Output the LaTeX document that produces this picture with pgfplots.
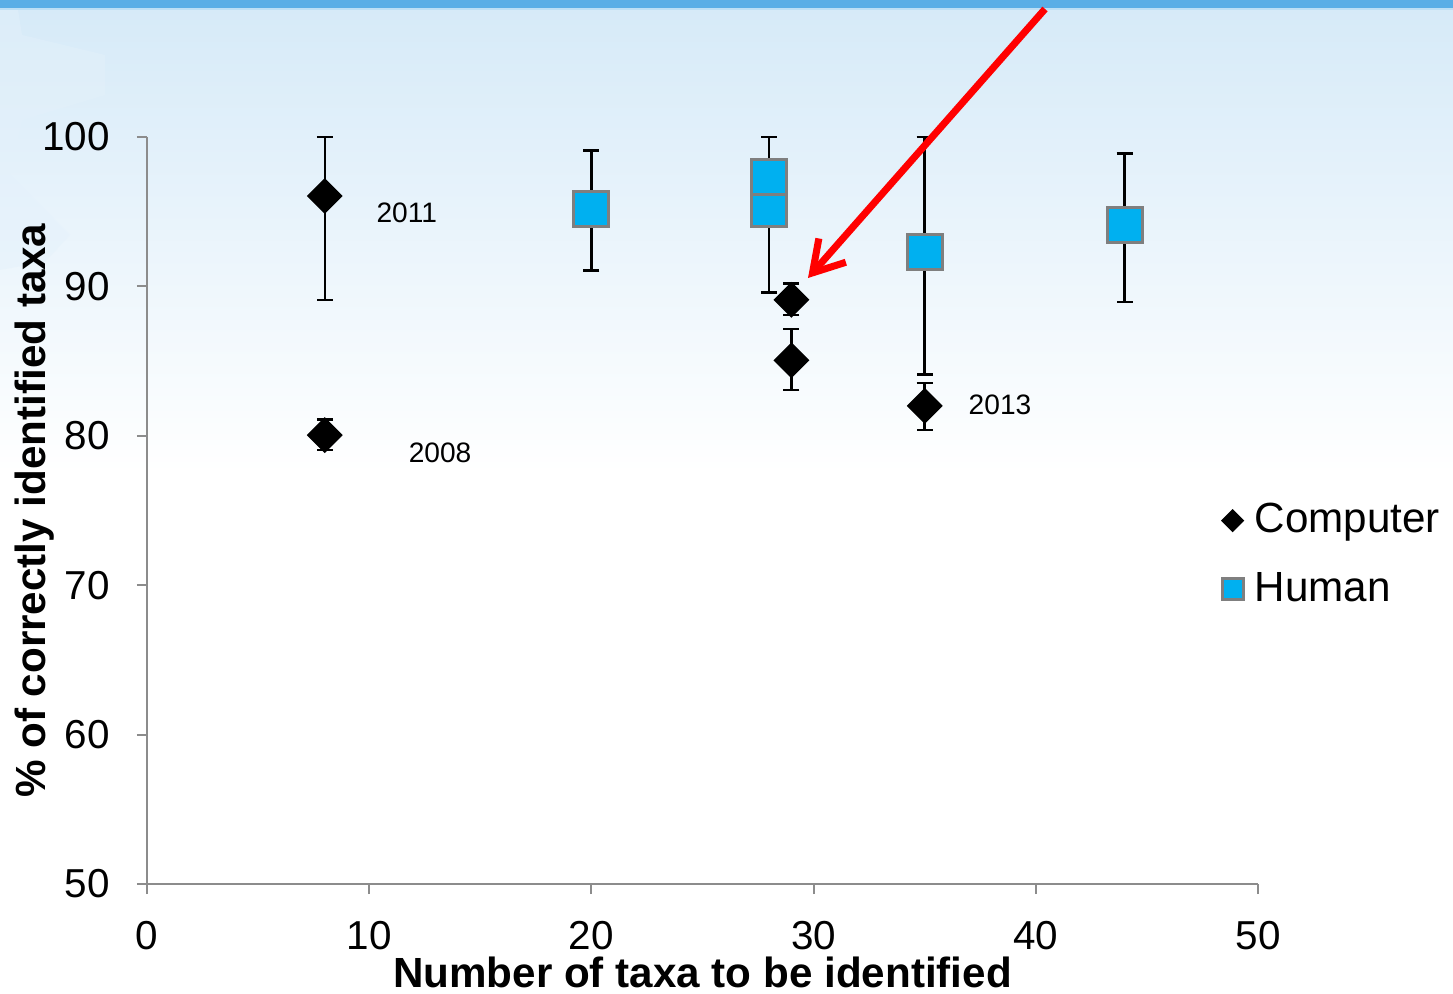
\documentclass[border=0pt]{standalone}
\usepackage{pgfplots}
\usepackage{pgfplotstable}
\pgfplotsset{compat=1.18}
\usepackage{fontspec}
\setmainfont{Liberation Sans}
\usetikzlibrary{arrows.meta}

\definecolor{humanblue}{HTML}{00B0F0}
\definecolor{markedge}{HTML}{7F7F7F}
\definecolor{axisgray}{HTML}{8C8C8C}
\definecolor{bandblue}{HTML}{5AAEE6}
\definecolor{skytop}{HTML}{D6EAF8}
\definecolor{arrowred}{HTML}{FF0000}

% x = number of taxa, y = % correct, ep/em = upper/lower error
\pgfplotstableread{
x   y      ep    em
8   96.05  3.95  6.95
8   80.05  1.05  1.00
29  89.10  1.10  1.00
29  85.05  2.10  2.00
35  82.00  1.55  1.60
}\computerdata

\pgfplotstableread{
x   y      ep    em
20  95.20  3.90  4.15
28  95.20  1.50  5.60
28  97.30  2.70  2.70
35  92.30  7.70  8.20
44  94.10  4.80  5.15
}\humandata

\begin{document}
\begin{tikzpicture}[x=1cm,y=1cm]
\useasboundingbox (0,0) rectangle (14.53,9.93);
% slide background
\fill[white] (0,0) rectangle (14.53,9.93);
\shade[top color=skytop, bottom color=white] (0,5.2) rectangle (14.53,9.85);
\fill[skytop!70!bandblue!35!white, opacity=0.45]
  (0,9.83) -- (0.18,9.83) -- (0.22,9.58) -- (1.05,9.38) -- (1.05,8.98)
  -- (0.22,8.73) -- (0.10,8.18) -- (0.70,7.58) -- (0.45,7.31) -- (0,7.23) -- cycle;
\fill[bandblue] (0,9.85) rectangle (14.53,9.93);
\fill[bandblue!40!white] (0,9.83) rectangle (14.53,9.85);

\begin{axis}[
  at={(1.47cm,1.09cm)}, anchor=south west,
  scale only axis, width=11.11cm, height=7.47cm,
  xmin=0, xmax=50, ymin=50, ymax=100,
  xtick={0,10,...,50}, ytick={50,60,...,100},
  axis lines*=left,
  axis line style={axisgray, line width=0.6pt},
  tick style={axisgray, line width=0.6pt},
  tick align=outside, major tick length=0.1cm,
  ticklabel style={font=\fontsize{11.5}{13}\selectfont, black},
  /pgf/number format/assume math mode=true,
  yticklabel style={anchor=east, xshift=-0.15cm},
  xticklabel style={anchor=north, yshift=-0.15cm},
  clip=false,
  xlabel={\textbf{Number of taxa to be identified}},
  ylabel={\textbf{\% of correctly identified taxa}},
  label style={font=\fontsize{12}{14}\selectfont},
  xlabel style={at={(axis description cs:0.5,-0.118)}, anchor=center},
  ylabel style={at={(axis description cs:-0.1008,0.5)}, anchor=center, rotate=0},
  legend style={at={(axis description cs:0.967,0.52)}, anchor=north west,
    draw=none, fill=none, font=\fontsize{12}{14}\selectfont,
    row sep=0.2cm, inner sep=0pt,
    /tikz/every odd column/.append style={column sep=0.045cm}},
  legend cell align=left,
  legend image code/.code={\draw[mark repeat=2,mark phase=2,#1]
    plot coordinates {(0cm,0cm)(0.1cm,0cm)(0.2cm,0cm)};},
]

\addplot[only marks, mark=square*, mark size=0.12cm,
  mark options={rotate=45, fill=black, draw=black},
  legend image post style={mark size=0.075cm},
  error bars/.cd, y dir=both, y explicit,
  error bar style={black, line width=0.7pt},
  error mark options={rotate=90, mark size=0.08cm, line width=0.7pt, black}]
  table[x=x, y=y, y error plus=ep, y error minus=em] {\computerdata};
\addlegendentry{Computer}

\addplot[only marks, mark=square*, mark size=0.175cm,
  mark options={fill=humanblue, draw=markedge, line width=0.85pt},
  legend image post style={mark size=0.105cm},
  error bars/.cd, y dir=both, y explicit,
  error bar style={black, line width=0.7pt},
  error mark options={rotate=90, mark size=0.08cm, line width=0.7pt, black}]
  table[x=x, y=y, y error plus=ep, y error minus=em] {\humandata};
\addlegendentry{Human}

\node[anchor=west, inner sep=0pt, font=\fontsize{8}{9}\selectfont] at (axis cs:10.3,94.9) {2011};
\node[anchor=west, inner sep=0pt, font=\fontsize{8}{9}\selectfont] at (axis cs:11.75,78.85) {2008};
\node[anchor=west, inner sep=0pt, font=\fontsize{8}{9}\selectfont] at (axis cs:36.95,82.06) {2013};
\end{axis}

% pointer to the 2013 computer result at 29 taxa
\draw[arrowred, line width=2pt, -{Straight Barb[length=0.3cm, width=0.36cm, line width=2pt]}]
  (10.45,9.84) -- (8.08,7.15);
\end{tikzpicture}
\end{document}
